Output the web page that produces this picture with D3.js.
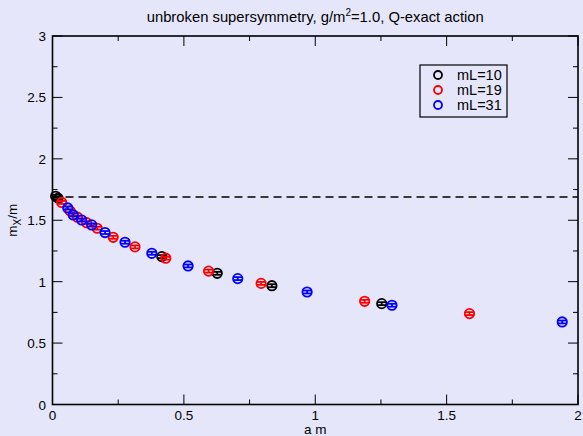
<!DOCTYPE html>
<html>
<head>
<meta charset="utf-8">
<script src="https://cdn.jsdelivr.net/npm/d3@7/dist/d3.min.js"></script>
<style>
  html, body { margin: 0; padding: 0; background: #e6e6fa; }
  svg { display: block; font-family: "Liberation Sans", Arial, sans-serif; }
</style>
</head>
<body>
<svg id="chart" width="583" height="436"></svg>
<script>
// Mass ratio m_X/m versus lattice spacing a m, for three physical volumes mL.
const seriesNames = ["mL=10", "mL=19", "mL=31"];
const seriesColors = ["#000000", "#ff0000", "#0000ff"];

const amL10 = [0.012, 0.021, 0.416, 0.627, 0.835, 1.253];
const mxL10 = [1.695, 1.680, 1.204, 1.068, 0.967, 0.821];

const amL19 = [0.035, 0.067, 0.095, 0.130, 0.170, 0.231, 0.314, 0.431, 0.594, 0.794, 1.188, 1.587];
const mxL19 = [1.645, 1.576, 1.525, 1.480, 1.435, 1.361, 1.283, 1.191, 1.086, 0.986, 0.840, 0.740];

const amL31 = [0.058, 0.079, 0.111, 0.149, 0.200, 0.276, 0.378, 0.516, 0.705, 0.969, 1.292, 1.940];
const mxL31 = [1.600, 1.543, 1.502, 1.462, 1.400, 1.321, 1.231, 1.128, 1.025, 0.916, 0.808, 0.672];

// statistical errors on each point
const errL10 = [0.012, 0.012, 0.012, 0.012, 0.012, 0.012];
const errL19 = [0.012, 0.012, 0.012, 0.012, 0.012, 0.012, 0.012, 0.012, 0.012, 0.012, 0.012, 0.012];
const errL31 = [0.012, 0.012, 0.012, 0.012, 0.012, 0.012, 0.012, 0.012, 0.012, 0.012, 0.012, 0.012];

const continuumValue = 1.69;

const xTicks = [0, 0.5, 1, 1.5, 2];
const xTickLabels = ["0", "0.5", "1", "1.5", "2"];
const yTicks = [0, 0.5, 1, 1.5, 2, 2.5, 3];
const yTickLabels = ["0", "0.5", "1", "1.5", "2", "2.5", "3"];

const series = [
  { name: seriesNames[0], color: seriesColors[0], x: amL10, y: mxL10, e: errL10 },
  { name: seriesNames[1], color: seriesColors[1], x: amL19, y: mxL19, e: errL19 },
  { name: seriesNames[2], color: seriesColors[2], x: amL31, y: mxL31, e: errL31 }
];

const svg = d3.select("#chart");
const plotL = 52.5, plotR = 578, plotT = 36, plotB = 404.5;

const x = d3.scaleLinear().domain([0, 2]).range([plotL, plotR]);
const y = d3.scaleLinear().domain([0, 3]).range([plotB, plotT]);

const minorX = d3.range(0, 2.0001, 0.25);
const minorY = d3.range(0, 3.0001, 0.25);

// frame ticks (pointing inward on all four sides)
const axes = svg.append("g").attr("stroke", "#000").attr("stroke-width", 1);
minorX.forEach(v => {
  const major = Math.abs(v * 2 - Math.round(v * 2)) < 1e-6;
  const len = major ? 10 : 5;
  axes.append("line").attr("x1", x(v)).attr("x2", x(v)).attr("y1", plotB).attr("y2", plotB - len);
  axes.append("line").attr("x1", x(v)).attr("x2", x(v)).attr("y1", plotT).attr("y2", plotT + len);
});
minorY.forEach(v => {
  const major = Math.abs(v * 2 - Math.round(v * 2)) < 1e-6;
  const len = major ? 10 : 5;
  axes.append("line").attr("y1", y(v)).attr("y2", y(v)).attr("x1", plotL).attr("x2", plotL + len);
  axes.append("line").attr("y1", y(v)).attr("y2", y(v)).attr("x1", plotR).attr("x2", plotR - len);
});
svg.append("rect")
  .attr("x", plotL).attr("y", plotT)
  .attr("width", plotR - plotL).attr("height", plotB - plotT)
  .attr("fill", "none").attr("stroke", "#000").attr("stroke-width", 1.6);

// tick labels
const fs = 13.5;
svg.append("g").selectAll("text").data(xTicks).join("text")
  .attr("x", d => x(d)).attr("y", 420)
  .attr("text-anchor", "middle").attr("font-size", fs)
  .text((d, i) => xTickLabels[i]);
svg.append("g").selectAll("text").data(yTicks).join("text")
  .attr("x", 46).attr("y", d => y(d) + 5)
  .attr("text-anchor", "end").attr("font-size", fs)
  .text((d, i) => yTickLabels[i]);

// axis titles
svg.append("text")
  .attr("x", (plotL + plotR) / 2).attr("y", 434)
  .attr("text-anchor", "middle").attr("font-size", fs)
  .text("a m");
const yl = svg.append("text")
  .attr("transform", `translate(17,${(plotT + plotB) / 2}) rotate(-90)`)
  .attr("text-anchor", "middle").attr("font-size", fs);
yl.append("tspan").text("m");
yl.append("tspan").attr("font-size", 10).attr("dy", 4).text("X");
yl.append("tspan").attr("dy", -4).text("/m");

// title
const t = svg.append("text")
  .attr("x", (plotL + plotR) / 2).attr("y", 22)
  .attr("text-anchor", "middle").attr("font-size", 14.8);
t.append("tspan").text("unbroken supersymmetry, g/m");
t.append("tspan").attr("font-size", 10).attr("dy", -6).text("2");
t.append("tspan").attr("dy", 6).text("=1.0, Q-exact action");

// continuum reference line
svg.append("line")
  .attr("x1", x(0)).attr("x2", x(2))
  .attr("y1", y(continuumValue)).attr("y2", y(continuumValue))
  .attr("stroke", "#000").attr("stroke-width", 1.5)
  .attr("stroke-dasharray", "8,5");

// data points: open circles with error bars
const r = 4.7;
series.forEach(s => {
  const g = svg.append("g").attr("stroke", s.color).attr("fill", "none").attr("stroke-width", 1.8);
  s.x.forEach((xv, i) => {
    const cx = x(xv), cy = y(s.y[i]);
    const yTop = y(s.y[i] + s.e[i]), yBot = y(s.y[i] - s.e[i]);
    g.append("circle").attr("cx", cx).attr("cy", cy).attr("r", r);
    g.append("line").attr("x1", cx).attr("x2", cx).attr("y1", yTop).attr("y2", yBot);
    g.append("line").attr("x1", cx - r).attr("x2", cx + r).attr("y1", yTop).attr("y2", yTop);
    g.append("line").attr("x1", cx - r).attr("x2", cx + r).attr("y1", yBot).attr("y2", yBot);
  });
});

// legend
const lg = svg.append("g");
lg.append("rect").attr("x", 420).attr("y", 65).attr("width", 87).attr("height", 52)
  .attr("fill", "none").attr("stroke", "#000").attr("stroke-width", 1.2);
series.forEach((s, i) => {
  const ly = 75 + i * 15;
  lg.append("circle").attr("cx", 438).attr("cy", ly).attr("r", 4)
    .attr("fill", "none").attr("stroke", s.color).attr("stroke-width", 1.8);
  lg.append("text").attr("x", 457).attr("y", ly + 5).attr("font-size", 14.5).text(s.name);
});
</script>
</body>
</html>
